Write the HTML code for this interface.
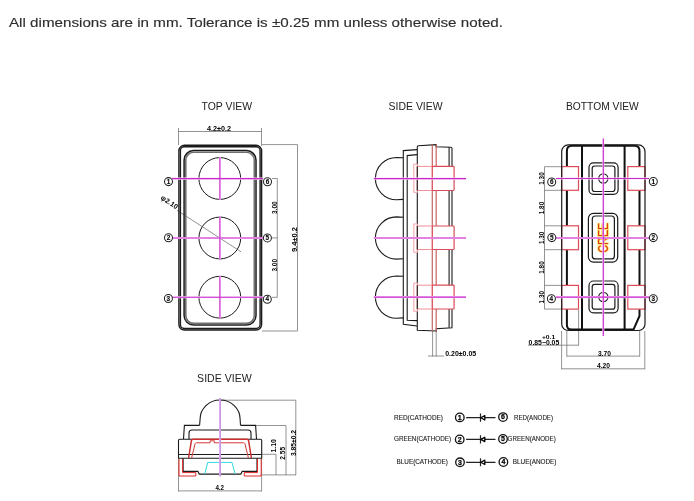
<!DOCTYPE html>
<html><head><meta charset="utf-8">
<style>
html,body{margin:0;padding:0;background:#fff;}
body{width:694px;height:501px;overflow:hidden;position:relative;font-family:"Liberation Sans",sans-serif;}
svg{position:absolute;left:0;top:0;filter:blur(0.3px);}
text{font-family:"Liberation Sans",sans-serif;}
</style></head><body>
<svg width="694" height="501" viewBox="0 0 694 501">
<!-- header -->
<text x="9" y="26.8" font-size="13.6" fill="#2e2e2e" stroke="#2e2e2e" stroke-width="0.15" textLength="494" lengthAdjust="spacingAndGlyphs">All dimensions are in mm. Tolerance is ±0.25 mm unless otherwise noted.</text>

<!-- titles -->
<g fill="#222" font-size="11.5">
<text x="201.6" y="110" textLength="50.5" lengthAdjust="spacingAndGlyphs">TOP VIEW</text>
<text x="388.6" y="109.6" textLength="54" lengthAdjust="spacingAndGlyphs">SIDE VIEW</text>
<text x="566" y="109.8" textLength="72.8" lengthAdjust="spacingAndGlyphs">BOTTOM VIEW</text>
<text x="197.1" y="381.6" textLength="54.6" lengthAdjust="spacingAndGlyphs">SIDE VIEW</text>
</g>

<!-- ================= TOP VIEW ================= -->
<g id="top">
  <!-- dims (gray thin) -->
  <g stroke="#777" stroke-width="0.8" fill="none">
    <path d="M178.5,131.5H261.5M178.5,128V145M261.5,128V146"/>
    <path d="M262,144.6H297.5V331H262"/>
    <path d="M272,178.5H277.3V297.3H272M272,237.9H277.3"/>
    <path d="M177,210.3 L241,251.8"/>
  </g>
  <g fill="#000" font-size="7" font-weight="bold">
    <text x="207" y="130.5" textLength="24" lengthAdjust="spacingAndGlyphs">4.2±0.2</text>
    <text transform="translate(276.6,207.7) rotate(-90)" text-anchor="middle" textLength="12.6" lengthAdjust="spacingAndGlyphs">3.00</text>
    <text transform="translate(276.6,265.3) rotate(-90)" text-anchor="middle" textLength="12.6" lengthAdjust="spacingAndGlyphs">3.00</text>
    <text transform="translate(296.6,239.6) rotate(-90)" text-anchor="middle" textLength="25" lengthAdjust="spacingAndGlyphs">9.4±0.2</text>
    <text transform="translate(160.3,198.8) rotate(33.8)" textLength="19" lengthAdjust="spacingAndGlyphs">φ2.10</text>
  </g>
  <!-- outlines -->
  <g fill="none" stroke="#1a1a1a">
    <rect x="178.9" y="145.3" width="82.7" height="184.7" rx="5.5" stroke-width="1.4"/>
    <rect x="180.4" y="146.8" width="79.7" height="181.7" rx="4" stroke-width="1.4"/>
    <rect x="184.1" y="150.6" width="71.9" height="174.5" rx="9.5" stroke-width="1.5"/>
  </g>
  <rect x="185.8" y="152.3" width="68.5" height="171.1" rx="7.8" fill="none" stroke="#707070" stroke-width="1.6"/>
  <!-- lenses -->
  <g fill="none" stroke="#1a1a1a" stroke-width="1">
    <circle cx="219.8" cy="178.5" r="20.9"/>
    <circle cx="219.8" cy="238" r="20.9"/>
    <circle cx="219.8" cy="297.2" r="20.9"/>
  </g>
  <!-- magenta center lines -->
  <g stroke="#fcdcfc" stroke-width="2.1" fill="none">
    <path d="M172,178.6H263M172,238H263M172,297.2H263"/>
    <path d="M219.9,157V200M219.9,216.5V259.5M219.9,276V318.5"/>
  </g>
  <g stroke="#c828c8" stroke-width="1.1" fill="none">
    <path d="M172,178.6H263M172,238H263M172,297.2H263"/>
    <path d="M219.9,157V200M219.9,216.5V259.5M219.9,276V318.5"/>
  </g>
  <!-- labels -->
  <g fill="#fff" stroke="#222" stroke-width="1.05">
    <circle cx="168.5" cy="181.6" r="4"/>
    <circle cx="168.5" cy="237.8" r="4"/>
    <circle cx="168.4" cy="298.5" r="4"/>
    <circle cx="267.5" cy="181.7" r="4"/>
    <circle cx="267.4" cy="237.9" r="4"/>
    <circle cx="267.3" cy="299.2" r="4"/>
  </g>
  <g fill="#000" stroke="#000" stroke-width="0.1" font-size="6.4" font-weight="bold" text-anchor="middle">
    <text x="168.5" y="183.8">1</text>
    <text x="168.5" y="240">2</text>
    <text x="168.4" y="300.7">3</text>
    <text x="267.5" y="183.9">6</text>
    <text x="267.4" y="240.1">5</text>
    <text x="267.3" y="301.4">4</text>
  </g>
</g>

<!-- ================= SIDE VIEW (middle) ================= -->
<g id="side">
  <g stroke="#777" stroke-width="0.8" fill="none">
    <path d="M432.6,331V356.5M436.2,331V356.5M428,356H444"/>
  </g>
  <text x="445.2" y="355.5" font-size="7" font-weight="bold" fill="#000" textLength="31" lengthAdjust="spacingAndGlyphs">0.20±0.05</text>
  <g fill="none" stroke="#1a1a1a" stroke-width="1.1">
    <path d="M403.3,157.8L396.5,157.5A21.1,21.1 0 0 0 396.5,199.7L403.3,199.4"/>
    <path d="M403.3,217.2L396.5,216.9A21.1,21.1 0 0 0 396.5,259.1L403.3,258.8"/>
    <path d="M403.3,276.3L396.5,276A21.1,21.1 0 0 0 396.5,318.2L403.3,317.9"/>
    <path d="M417,149.6L403.3,150.6V324.2L417,326"/>
    <path d="M417,154.6L407.2,155.6V320.2L417,320.6"/>
    <path d="M417.3,147Q417.3,145.9 418.4,145.8L436.1,144.6V146.8L450.8,147.3Q452,147.3 452,148.5V327.8L436.3,328.7V331L417.3,330.3Z"/>
    <path d="M449.1,147.3V327.8"/>
  </g>
  <g stroke="#c86464" stroke-width="1.2" fill="none">
    <path d="M432.3,144.4V331M436.2,144.4V331"/>
  </g>
  <g fill="#fff" stroke="#f4a4a8" stroke-width="1">
    <rect x="413.8" y="164.3" width="3.5" height="28"/>
    <rect x="413.8" y="224" width="3.5" height="28.3"/>
    <rect x="413.8" y="283.2" width="3.5" height="28"/>
  </g>
  <g fill="#fff" stroke="#f09098" stroke-width="1">
    <rect x="417.3" y="166.4" width="15" height="24.1"/>
    <rect x="417.3" y="226" width="15" height="23.5"/>
    <rect x="417.3" y="285.2" width="15" height="23.8"/>
  </g>
  <g fill="#fff" stroke="#dc4c58" stroke-width="1.2">
    <rect x="432.3" y="166.4" width="21.8" height="24.1" rx="0.8"/>
    <rect x="432.3" y="226" width="21.8" height="23.5" rx="0.8"/>
    <rect x="432.3" y="285.2" width="21.8" height="23.8" rx="0.8"/>
  </g>
  <path d="M417.3,166.4V190.5M417.3,226V249.5M417.3,285.2V309" stroke="#1a1a1a" stroke-width="1.1"/>
  <g stroke="#fcdcfc" stroke-width="2.1" fill="none">
    <path d="M373.8,178.6H466M373.8,238H466M373.8,297.1H466"/>
  </g>
  <g stroke="#c828c8" stroke-width="1.1" fill="none">
    <path d="M373.8,178.6H466M373.8,238H466M373.8,297.1H466"/>
  </g>
</g>

<!-- ================= BOTTOM VIEW ================= -->
<g id="bottom">
  <g stroke="#777" stroke-width="0.8" fill="none">
    <path d="M544.5,166.7V309.1"/>
    <path d="M544.5,166.7H561.7M544.5,190.3H561.7M544.5,225.8H561.7M544.5,249.7H561.7M544.5,285.4H561.7M544.5,309.1H561.7"/>
    <path d="M561.6,331V369.3M566.8,331V356.6M578.6,310V345.6M639.7,331V356.6M644.8,331V369.3"/>
    <path d="M528,345.2H578.6M566.8,356.1H639.7M561.6,368.8H644.8"/>
  </g>
  <g fill="#000" font-size="7" font-weight="bold">
    <text transform="translate(543.9,178.5) rotate(-90)" text-anchor="middle" textLength="12.4" lengthAdjust="spacingAndGlyphs">1.30</text>
    <text transform="translate(543.9,208) rotate(-90)" text-anchor="middle" textLength="12.4" lengthAdjust="spacingAndGlyphs">1.80</text>
    <text transform="translate(543.9,237.8) rotate(-90)" text-anchor="middle" textLength="12.4" lengthAdjust="spacingAndGlyphs">1.30</text>
    <text transform="translate(543.9,267.5) rotate(-90)" text-anchor="middle" textLength="12.4" lengthAdjust="spacingAndGlyphs">1.80</text>
    <text transform="translate(543.9,297.2) rotate(-90)" text-anchor="middle" textLength="12.4" lengthAdjust="spacingAndGlyphs">1.30</text>
    <text x="541.9" y="338.8" font-size="6" textLength="13.3" lengthAdjust="spacingAndGlyphs">+0.1</text>
    <text x="528.6" y="344.8" textLength="30.6" lengthAdjust="spacingAndGlyphs">0.85−0.05</text>
    <text x="597.9" y="356" textLength="13" lengthAdjust="spacingAndGlyphs">3.70</text>
    <text x="597" y="368.3" textLength="13" lengthAdjust="spacingAndGlyphs">4.20</text>
  </g>
  <!-- outline -->
  <g fill="none" stroke="#111" stroke-width="2">
    <path d="M566.9,325V151Q566.9,145.8 572,145.8H634.5Q639.5,145.8 639.5,151V316L633.5,329.6H571.5Q566.9,329.6 566.9,325"/>
    <path d="M582,145.8V329.6M624.6,145.8V329.6"/>
  </g>
  <!-- windows -->
  <g fill="none" stroke="#1a1a1a" stroke-width="1.2">
    <rect x="589" y="162.8" width="29.1" height="31.5" rx="4.5"/>
    <rect x="592.2" y="166" width="22.7" height="25.5" rx="2.5"/>
    <circle cx="603.3" cy="178.5" r="4.6"/>
    <rect x="588.4" y="213.4" width="29.3" height="48.7" rx="5"/>
    <rect x="592.3" y="216" width="22.1" height="42.9" rx="3"/>
    <rect x="589" y="281" width="29.1" height="31.8" rx="4.5"/>
    <rect x="592.2" y="284.3" width="22.7" height="24.9" rx="2.5"/>
    <circle cx="603.3" cy="297" r="4.6"/>
  </g>
  <text transform="translate(608.2,237.7) rotate(-90)" text-anchor="middle" font-size="14.3" fill="#e23a1c" stroke="#f8e050" stroke-width="1.5" stroke-linejoin="round" paint-order="stroke" textLength="30" lengthAdjust="spacingAndGlyphs">CREE</text>
  <!-- pads -->
  <g fill="#fff" stroke="#dc4c58" stroke-width="1.2">
    <rect x="561.7" y="166.6" width="16.8" height="23.7"/>
    <rect x="561.7" y="225.8" width="16.8" height="23.9"/>
    <rect x="561.7" y="285.4" width="16.8" height="23.7"/>
    <rect x="627.8" y="166.6" width="17.2" height="23.7"/>
    <rect x="627.8" y="225.8" width="17.2" height="23.9"/>
    <rect x="627.8" y="285.4" width="17.2" height="23.7"/>
  </g>
  <rect x="561.7" y="144.9" width="83.3" height="185.6" rx="6.5" fill="none" stroke="#1a1a1a" stroke-width="1.2"/>

  <g stroke="#fcdcfc" stroke-width="2.1" fill="none">
    <path d="M556,178.5H649M556,238H649M556,297.1H649"/>
    <path d="M603.3,138.4V336"/>
  </g>
  <g stroke="#c828c8" stroke-width="1.1" fill="none">
    <path d="M556,178.5H649M556,238H649M556,297.1H649"/>
    <path d="M603.3,138.4V336"/>
  </g>
  <g fill="#fff" stroke="#222" stroke-width="1.05">
    <circle cx="551.7" cy="182" r="4"/>
    <circle cx="551.8" cy="237.6" r="4"/>
    <circle cx="551.4" cy="298.8" r="4"/>
    <circle cx="653.3" cy="181.5" r="4"/>
    <circle cx="653.3" cy="237.6" r="4"/>
    <circle cx="653.3" cy="298.8" r="4"/>
  </g>
  <g fill="#000" stroke="#000" stroke-width="0.1" font-size="6.4" font-weight="bold" text-anchor="middle">
    <text x="551.7" y="184.2">6</text>
    <text x="551.8" y="239.8">5</text>
    <text x="551.4" y="301">4</text>
    <text x="653.3" y="183.7">1</text>
    <text x="653.3" y="239.8">2</text>
    <text x="653.3" y="301">3</text>
  </g>
</g>

<!-- ================= SIDE VIEW (lower) ================= -->
<g id="side2">
  <g stroke="#777" stroke-width="0.8" fill="none">
    <path d="M221,400.2H295.8V475M256,425.5H286V475M262,454.3H276V475M262,474.9H296"/>
    <path d="M178.5,458V491.5M261.6,458V491.5M178.5,490.9H261.6"/>
  </g>
  <g fill="#000" font-size="7" font-weight="bold">
    <text transform="translate(275.6,445.8) rotate(-90)" text-anchor="middle" textLength="13.5" lengthAdjust="spacingAndGlyphs">1.10</text>
    <text transform="translate(285,453.3) rotate(-90)" text-anchor="middle" textLength="12.7" lengthAdjust="spacingAndGlyphs">2.55</text>
    <text transform="translate(296.1,443) rotate(-90)" text-anchor="middle" textLength="26" lengthAdjust="spacingAndGlyphs">3.85±0.2</text>
    <text x="215.4" y="490.2" textLength="8.6" lengthAdjust="spacingAndGlyphs">4.2</text>
  </g>
  <g fill="none" stroke="#1a1a1a" stroke-width="1.1">
    <path d="M199.6,425.3L200.1,419A20,19 0 0 1 240.1,419L240.5,425.3"/>
    <path d="M183.5,439L184.4,425.4H199.6M240.5,425.4H255.6L256.5,439"/>
    <path d="M189,439V433Q189,430 192,430H248Q251,430 251,433V439"/>
    <path d="M178.5,458.5V440.5Q178.5,439.3 179.7,439.3H260.5Q261.7,439.3 261.7,440.5V458.5"/>
    <path d="M178.5,454.5H261.7M178.5,458.2H261.7"/>
    <path d="M183.1,458.2V471.4H197.9L199.3,474.1H240.8L242.2,471.4H257V458.2"/>
  </g>
  <g fill="none" stroke="#e02828" stroke-width="1">
    <path d="M188.6,458L191.5,440.2Q191.8,439.2 193,439.2H247Q248.2,439.2 248.5,440.2L251.4,458" stroke-width="1.5" stroke="#cc3030"/>
    <path d="M191.6,458L195,443.8Q195.3,442.8 196.5,442.8H210.1V440.8H214.3V442.8H243.5Q244.7,442.8 245,443.8L248.4,458" stroke="#d83a3a"/>
    <path d="M179,459V476H195.8V472.6H182.6V459"/>
    <path d="M261.2,459V476H244.3V472.6H257.5V459"/>
  </g>
  <path d="M204.7,474L207.8,462.4H232L235.1,474" fill="none" stroke="#30d8e0" stroke-width="1"/>
  <path d="M220.1,398V476.5" stroke="#f2dcfa" stroke-width="2"/>
  <path d="M220.1,398V476.5" stroke="#b464d4" stroke-width="1"/>
</g>

<!-- ================= LEGEND ================= -->
<g id="legend">
  <g fill="#222" font-size="7" stroke="#222" stroke-width="0.12">
    <text x="394" y="420" textLength="49" lengthAdjust="spacingAndGlyphs">RED(CATHODE)</text>
    <text x="394" y="441.3" textLength="57" lengthAdjust="spacingAndGlyphs">GREEN(CATHODE)</text>
    <text x="396.6" y="464.2" textLength="51.3" lengthAdjust="spacingAndGlyphs">BLUE(CATHODE)</text>
    <text x="514" y="420.1" textLength="39" lengthAdjust="spacingAndGlyphs">RED(ANODE)</text>
    <text x="507.6" y="441" textLength="48.2" lengthAdjust="spacingAndGlyphs">GREEN(ANODE)</text>
    <text x="512.8" y="464.3" textLength="43.7" lengthAdjust="spacingAndGlyphs">BLUE(ANODE)</text>
  </g>
  <g fill="none" stroke="#111" stroke-width="1.3">
    <circle cx="459.8" cy="417.4" r="4.3"/>
    <circle cx="459.7" cy="439.4" r="4.3"/>
    <circle cx="460" cy="462.3" r="4.3"/>
    <circle cx="503" cy="417.1" r="4.3"/>
    <circle cx="503" cy="439" r="4.3"/>
    <circle cx="503.4" cy="462" r="4.3"/>
  </g>
  <g stroke="#222" stroke-width="1.2" fill="none">
    <path d="M466.1,417.7H495.5M466.1,439.4H495.5M466.1,462.3H495.5"/>
    <path d="M480.5,413.6V421.7M480.5,435.3V443.4M480.5,458.2V466.3"/>
  </g>
  <g fill="#fff" stroke="#000" stroke-width="1.3" stroke-linejoin="round">
    <path d="M480.9,417.8L484.8,415.6V420Z"/>
    <path d="M480.9,439.4L484.8,437.2V441.6Z"/>
    <path d="M480.9,462.3L484.8,460.1V464.5Z"/>
  </g>
  <g fill="#000" stroke="#000" stroke-width="0.25" font-size="7" font-weight="bold" text-anchor="middle">
    <text x="459.8" y="419.7">1</text>
    <text x="459.7" y="441.7">2</text>
    <text x="460" y="464.6">3</text>
    <text x="503" y="419.4">6</text>
    <text x="503" y="441.3">5</text>
    <text x="503.4" y="464.3">4</text>
  </g>
</g>

</svg>
</body></html>
